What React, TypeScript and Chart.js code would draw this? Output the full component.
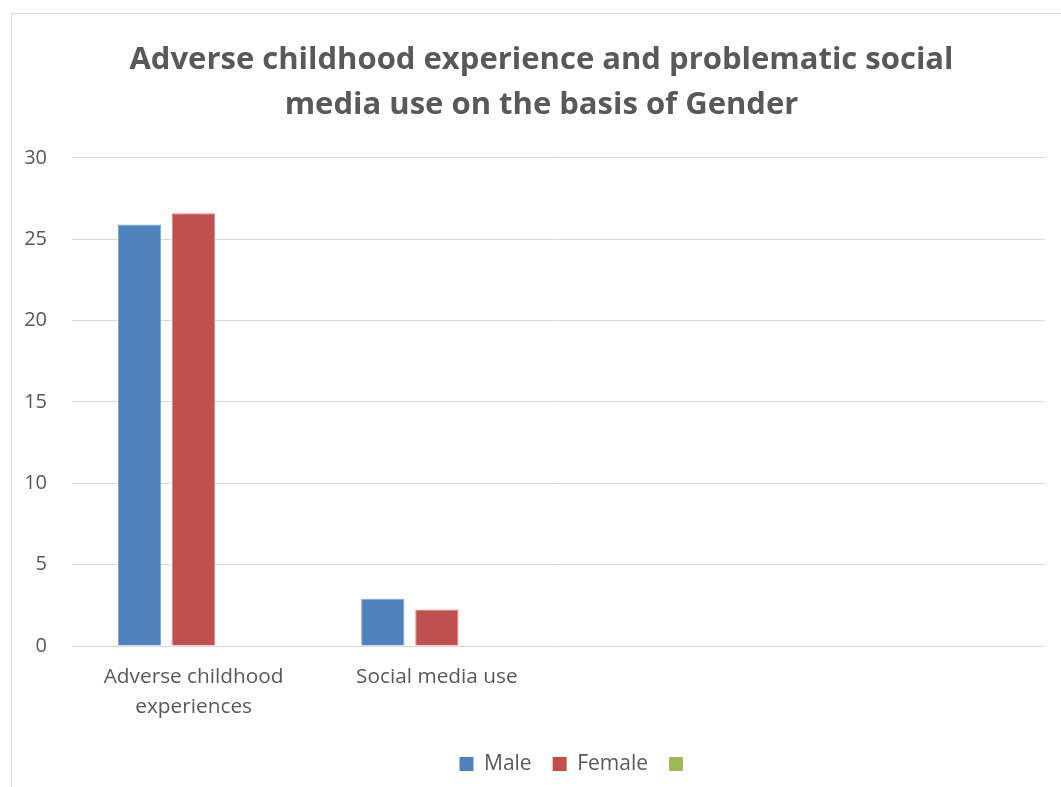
import React, { useEffect, useRef } from "react";
import { Chart, registerables } from "chart.js";

Chart.register(...registerables);

const categories: (string | string[])[] = [
  ["Adverse childhood", "experiences"],
  "Social media use",
  "",
  "",
];
const maleValues = [25.9, 2.9, null, null];
const femaleValues = [26.6, 2.25, null, null];
const thirdValues = [null, null, null, null];
const seriesNames = ["Male", "Female", ""];
const yTicks = [0, 5, 10, 15, 20, 25, 30];
const titleLines = [
  "Adverse childhood experience and problematic social",
  "media use on the basis of Gender",
];

const FONT = "'Open Sans', 'Noto Sans', sans-serif";
const GREY = "#595959";

// shifts the title and the legend sideways, as the reference centres them
const shiftPlugin = {
  id: "shiftBoxes",
  afterLayout(chart: any) {
    const t = chart.titleBlock;
    if (t) {
      t.left += 9;
      t.right += 9;
    }
    const l = chart.legend;
    if (l) {
      l.left += 44;
      l.right += 44;
    }
  },
};

export default function App() {
  const canvasRef = useRef<HTMLCanvasElement | null>(null);

  useEffect(() => {
    const canvas = canvasRef.current;
    if (!canvas) return;
    const chart = new Chart(canvas, {
      type: "bar",
      data: {
        labels: categories,
        datasets: [
          {
            label: seriesNames[0],
            data: maleValues,
            backgroundColor: "#4f81bd",
            borderColor: "#7fa3d0",
            borderWidth: 1,
          },
          {
            label: seriesNames[1],
            data: femaleValues,
            backgroundColor: "#c0504d",
            borderColor: "#d98987",
            borderWidth: 1,
          },
          {
            label: seriesNames[2],
            data: thirdValues,
            backgroundColor: "#9bbb59",
            borderColor: "#9bbb59",
            borderWidth: 0,
          },
        ],
      },
      plugins: [shiftPlugin],
      options: {
        responsive: false,
        animation: false,
        layout: { padding: { left: 20, right: 16, top: 0, bottom: 2.5 } },
        datasets: {
          bar: { categoryPercentage: 0.667, barPercentage: 0.8 },
        },
        scales: {
          x: {
            grid: { display: false },
            border: { display: false },
            afterFit: (axis: any) => {
              axis.height = 86.5;
            },
            ticks: {
              color: GREY,
              font: { family: FONT, size: 20.8, lineHeight: 1.4 },
              padding: 9,
              maxRotation: 0,
              autoSkip: false,
            },
          },
          y: {
            min: 0,
            max: 30,
            afterBuildTicks: (axis: any) => {
              axis.ticks = yTicks.map((v) => ({ value: v }));
            },
            afterFit: (axis: any) => {
              axis.width = 52;
            },
            grid: { color: "#d9d9d9", lineWidth: 1, drawTicks: false },
            border: { display: false },
            ticks: {
              color: GREY,
              font: { family: FONT, size: 20 },
              padding: 25,
            },
          },
        },
        plugins: {
          title: {
            display: true,
            text: titleLines,
            color: GREY,
            font: { family: FONT, size: 31, weight: "bold", lineHeight: 1.45 },
            padding: { top: 37.5, bottom: 30.5 },
          },
          legend: {
            display: true,
            position: "bottom",
            labels: {
              color: GREY,
              font: { family: FONT, size: 21 },
              boxWidth: 14,
              boxHeight: 14,
              padding: 21,
              generateLabels: (c: any) => {
                const items = Chart.defaults.plugins.legend.labels.generateLabels(c);
                return items.map((it: any) => ({ ...it, lineWidth: 0 }));
              },
            },
          },
          tooltip: { enabled: false },
        },
      },
    });
    return () => chart.destroy();
  }, []);

  return (
    <div style={{ position: "fixed", left: 0, top: 0, width: 1061, height: 787, overflow: "hidden", background: "#fff" }}>
      <div
        style={{
          position: "absolute",
          left: 11,
          top: 13,
          width: 1100,
          height: 900,
          border: "1px solid #d9d9d9",
        }}
      />
      <canvas
        ref={canvasRef}
        width={1061}
        height={787}
        style={{ position: "absolute", left: 0, top: 0, width: 1061, height: 787 }}
      />
    </div>
  );
}
